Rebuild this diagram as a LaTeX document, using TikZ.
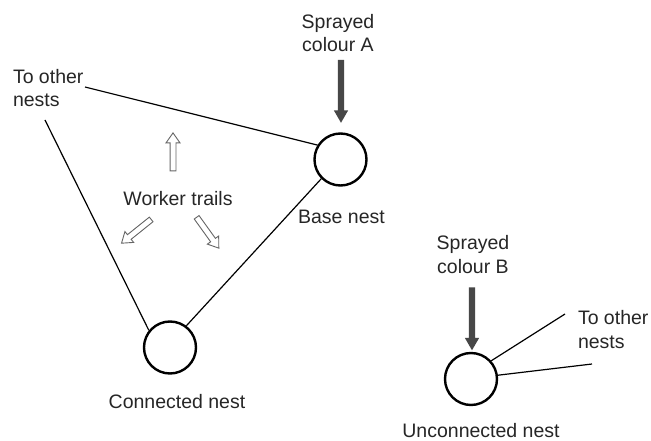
\documentclass[tikz,border=0pt]{standalone}
\usepackage{fontspec}
\setmainfont{Liberation Sans}
\usetikzlibrary{shapes.arrows}
\begin{document}
\begin{tikzpicture}[x=1pt,y=-1pt,
  nest/.style={circle,draw=black,line width=2.4pt,minimum size=52pt,inner sep=0pt},
  lbl/.style={font=\fontsize{19.5}{23.5}\selectfont,text=black!85,inner sep=0pt,outer sep=0pt},
  link/.style={draw=black,line width=1.2pt},
  spray/.style={single arrow,fill=black!72,draw=none,minimum height=63pt,inner sep=3pt,
    single arrow head extend=4pt,single arrow tip angle=60},
  trail/.style={single arrow,fill=white,draw=black!60,line width=0.9pt,minimum height=38pt,
    inner sep=2.5pt,single arrow head extend=4pt,single arrow tip angle=70}
]
\fill[white] (0,0) rectangle (651,441);

% nests
\node[nest] (base) at (340.5,159.5) {};
\node[nest] (conn) at (170,347.5) {};
\node[nest] (unconn) at (471,379) {};

% labels (multi-line nodes: base = last line's baseline)
\node[lbl,anchor=base] (baselbl) at (341.5,223) {Base nest};
\node[lbl,anchor=base] (connlbl) at (177,408) {Connected nest};
\node[lbl,anchor=base] (unconnlbl) at (481,437) {Unconnected nest};
\node[lbl,anchor=base,align=center] (sprA) at (338,52) {Sprayed\\colour A};
\node[lbl,anchor=base,align=center] (sprB) at (473,273) {Sprayed\\colour B};
\node[lbl,anchor=base west,align=left] (otherL) at (13,107) {To other\\nests};
\node[lbl,anchor=base west,align=left] (otherR) at (578,348) {To other\\nests};
\node[lbl,anchor=base] (worker) at (178,205) {Worker trails};

% free ends
\coordinate (tl1) at (85,87);
\coordinate (tl2) at (45,120);
\coordinate (tr1) at (565,314);
\coordinate (tr2) at (592,364);

% connectors
\draw[link] (tl1) -- (base.148);
\draw[link] (tl2) -- (conn.141);
\draw[link] (conn.53) -- (base.225);
\draw[link] (unconn.42) -- (tr1);
\draw[link] (unconn.8) -- (tr2);

% spray arrows
\node[spray,rotate=-90] (arrA) at (341,88.5) {};
\node[spray,rotate=-90] (arrB) at (472,316) {};

% worker trail arrows
\node[trail,rotate=90] (trU) at (173,154) {};
\node[trail,rotate=218.7] (trL) at (138,230) {};
\node[trail,rotate=-54.3] (trR) at (206.5,231) {};
\end{tikzpicture}
\end{document}
